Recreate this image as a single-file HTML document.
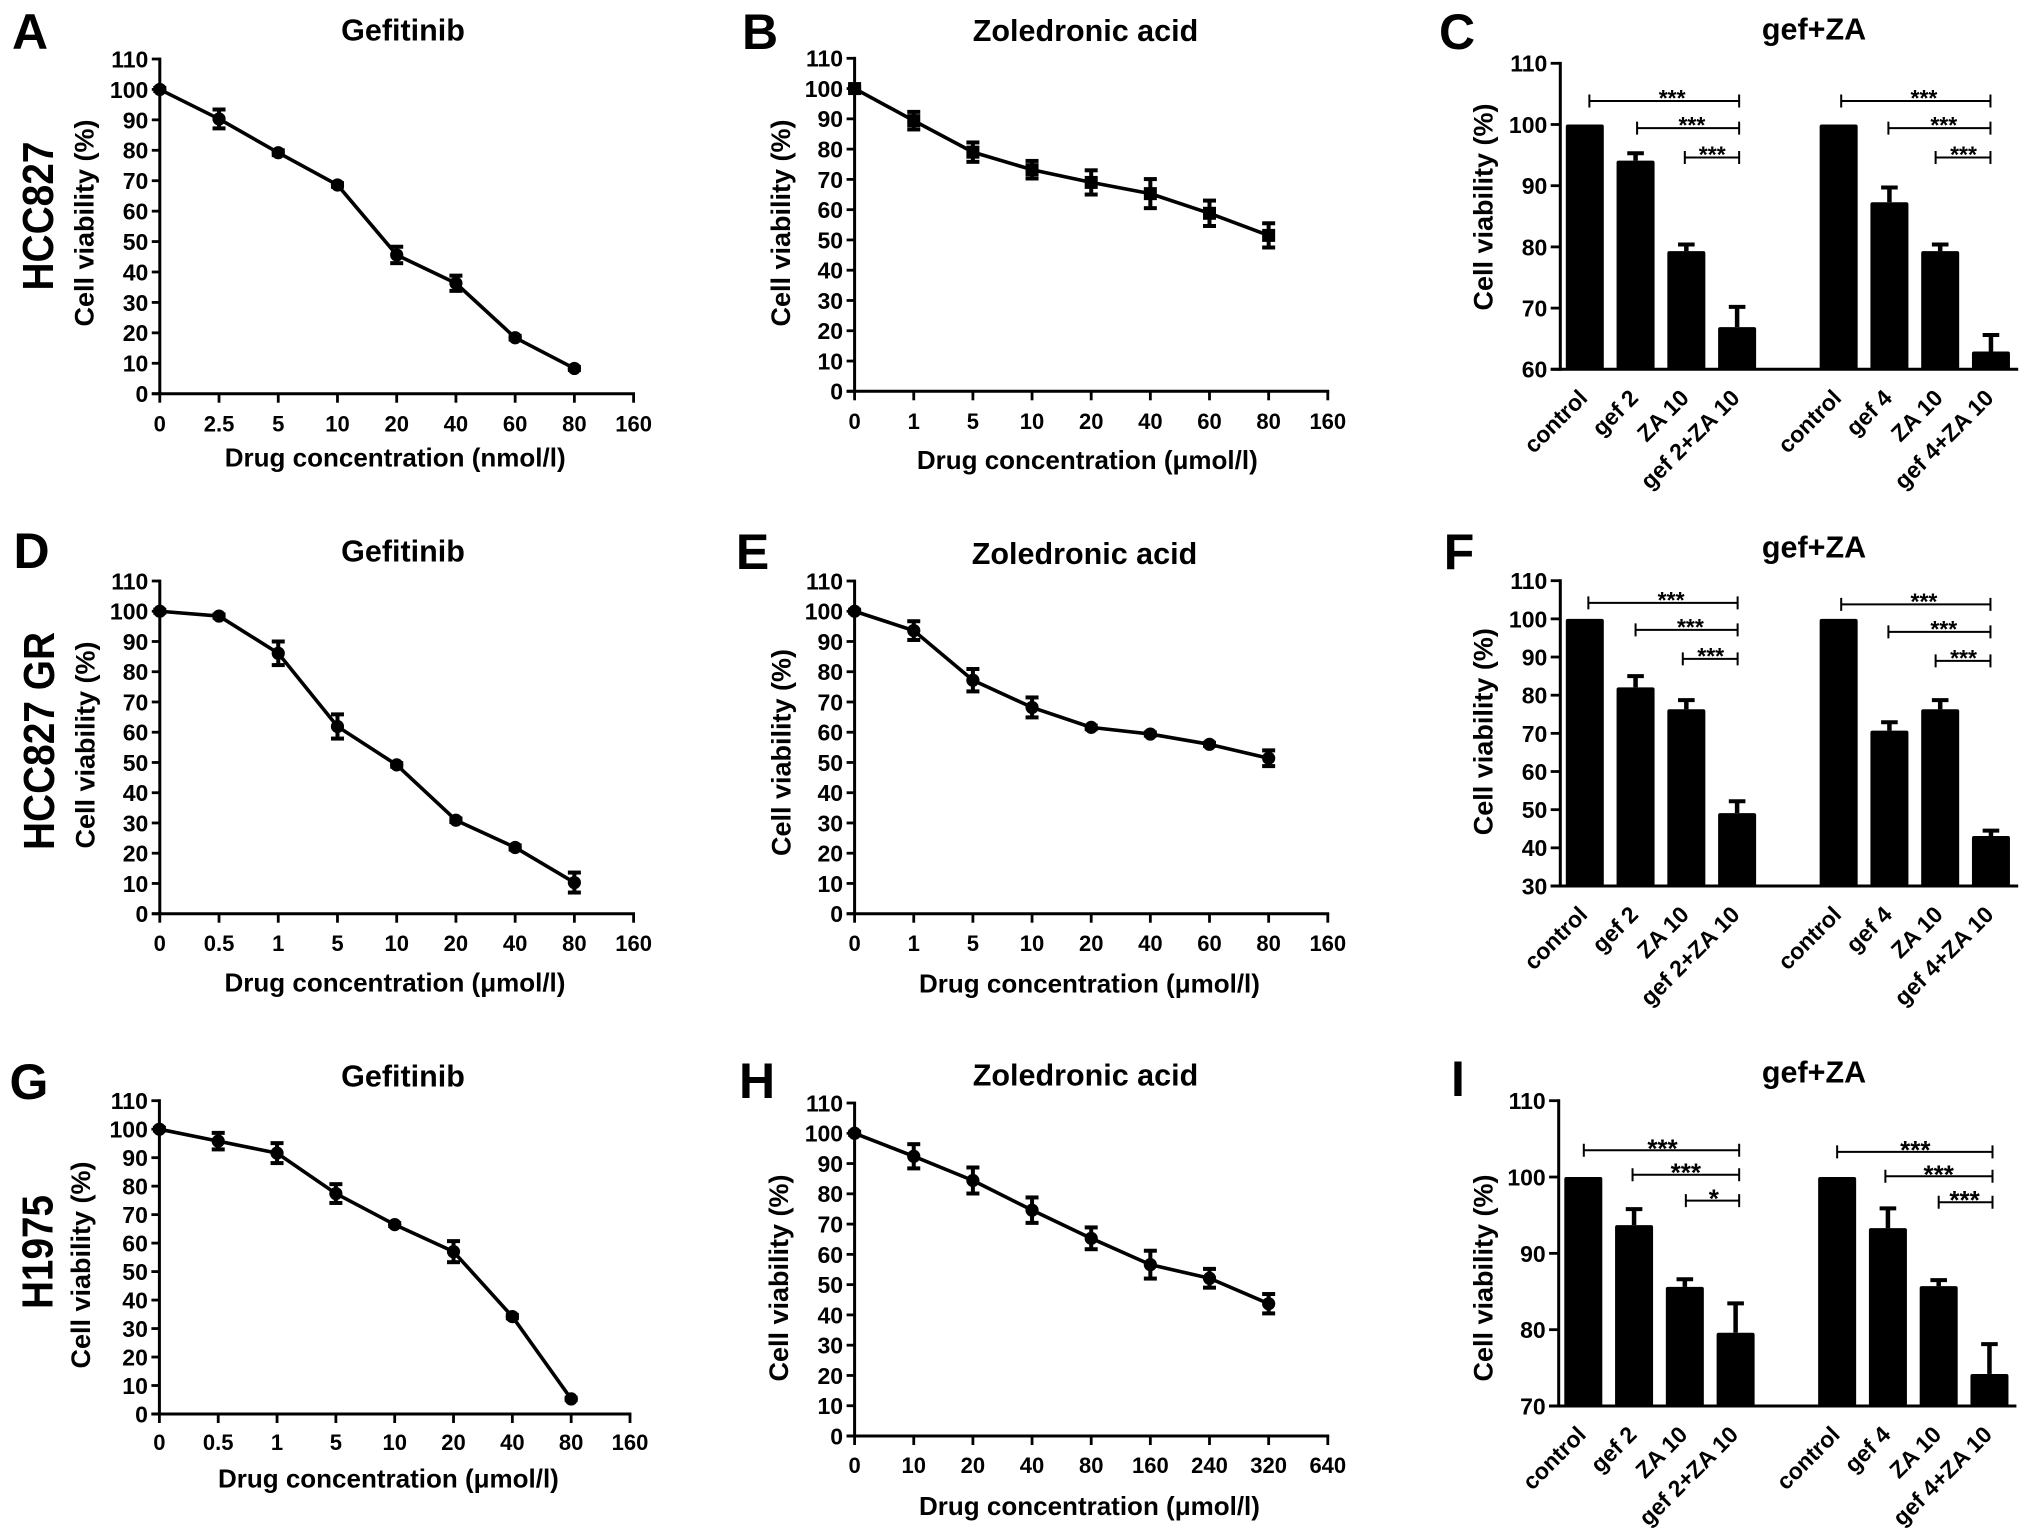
<!DOCTYPE html>
<html lang="en">
<head>
<meta charset="utf-8">
<title>Cell viability panels</title>
<style>
html,body{margin:0;padding:0;background:#fff;}
svg{display:block;}
text{font-family:"Liberation Sans",Arial,sans-serif;font-weight:bold;fill:#000;}
</style>
</head>
<body>
<svg id="figure" xmlns="http://www.w3.org/2000/svg" width="2031" height="1537" viewBox="0 0 2031 1537">
  <rect width="2031" height="1537" fill="#fff"/>

  <g font-size="50" text-anchor="middle">
    <text x="30" y="49">A</text>
    <text x="760" y="49">B</text>
    <text x="1457" y="49">C</text>
    <text x="31.5" y="568">D</text>
    <text x="752.5" y="569">E</text>
    <text x="1459" y="569">F</text>
    <text x="29" y="1099">G</text>
    <text x="757" y="1098">H</text>
    <text x="1458" y="1096">I</text>
  </g>

  <g font-size="44" text-anchor="middle">
    <text transform="translate(53,216) rotate(-90)" textLength="149" lengthAdjust="spacingAndGlyphs">HCC827</text>
    <text transform="translate(54,741) rotate(-90)" textLength="218" lengthAdjust="spacingAndGlyphs">HCC827 GR</text>
    <text transform="translate(52.7,1252) rotate(-90)" textLength="114" lengthAdjust="spacingAndGlyphs">H1975</text>
  </g>

  <g font-size="30.5" text-anchor="middle">
    <text x="403" y="40.7">Gefitinib</text>
    <text x="1085.5" y="41">Zoledronic acid</text>
    <text x="1814" y="39.3">gef+ZA</text>
    <text x="403" y="561.7">Gefitinib</text>
    <text x="1084.5" y="564">Zoledronic acid</text>
    <text x="1814" y="557.3">gef+ZA</text>
    <text x="403" y="1086.7">Gefitinib</text>
    <text x="1085.5" y="1085.7">Zoledronic acid</text>
    <text x="1814" y="1082.7">gef+ZA</text>
  </g>

  <g font-size="27" text-anchor="middle">
    <text transform="translate(93.5,223) rotate(-90)">Cell viability (%)</text>
    <text transform="translate(790,223) rotate(-90)">Cell viability (%)</text>
    <text transform="translate(1492.4,207) rotate(-90)">Cell viability (%)</text>
    <text transform="translate(94.4,745) rotate(-90)">Cell viability (%)</text>
    <text transform="translate(790.5,752.5) rotate(-90)">Cell viability (%)</text>
    <text transform="translate(1492.4,731.7) rotate(-90)">Cell viability (%)</text>
    <text transform="translate(90,1265) rotate(-90)">Cell viability (%)</text>
    <text transform="translate(788,1278) rotate(-90)">Cell viability (%)</text>
    <text transform="translate(1492.4,1278) rotate(-90)">Cell viability (%)</text>
  </g>

  <g font-size="26" text-anchor="middle">
    <text x="395.2" y="466.7">Drug concentration (nmol/l)</text>
    <text x="1087.3" y="469">Drug concentration (μmol/l)</text>
    <text x="395" y="991.7">Drug concentration (μmol/l)</text>
    <text x="1089.5" y="992.7">Drug concentration (μmol/l)</text>
    <text x="388.4" y="1487.7">Drug concentration (μmol/l)</text>
    <text x="1089.5" y="1515">Drug concentration (μmol/l)</text>
  </g>

  <g id="plots"></g>
</svg>

<script>
// ---------- line chart data ----------
const lineYTicks = [0, 10, 20, 30, 40, 50, 60, 70, 80, 90, 100, 110];

const concA = ['0', '2.5', '5', '10', '20', '40', '60', '80', '160'];
const viabilityA = [100, 90.3, 79.2, 68.6, 45.6, 36.3, 18.4, 8.3];
const errorA = [0.5, 3.1, 0.8, 0.6, 2.7, 2.5, 0.6, 0.5];

const concB = ['0', '1', '5', '10', '20', '40', '60', '80', '160'];
const viabilityB = [100, 89.4, 79, 73.2, 69, 65.3, 58.8, 51.5];
const errorB = [0.5, 2.9, 3.2, 2.9, 4, 4.8, 4.2, 4];

const concD = ['0', '0.5', '1', '5', '10', '20', '40', '80', '160'];
const viabilityD = [100, 98.4, 86.1, 61.9, 49.2, 30.9, 21.9, 10.3];
const errorD = [0.5, 0.5, 3.9, 4, 0.6, 0.6, 0.7, 3.3];

const concE = ['0', '1', '5', '10', '20', '40', '60', '80', '160'];
const viabilityE = [100, 93.6, 77.2, 68.2, 61.6, 59.4, 56, 51.4];
const errorE = [0.5, 3.1, 3.7, 3.3, 0.6, 0.5, 0.5, 2.6];

const concG = ['0', '0.5', '1', '5', '10', '20', '40', '80', '160'];
const viabilityG = [100, 95.8, 91.6, 77.4, 66.5, 57, 34.2, 5.3];
const errorG = [0.5, 2.9, 3.5, 3.3, 0.5, 3.7, 0.6, 0.4];

const concH = ['0', '10', '20', '40', '80', '160', '240', '320', '640'];
const viabilityH = [100, 92.4, 84.4, 74.6, 65.3, 56.6, 52.1, 43.7];
const errorH = [0.5, 4, 4.3, 4.2, 3.6, 4.6, 3.1, 3.2];

// ---------- bar chart data ----------
const barCategoriesLeft = ['control', 'gef 2', 'ZA 10', 'gef 2+ZA 10'];
const barCategoriesRight = ['control', 'gef 4', 'ZA 10', 'gef 4+ZA 10'];

const barYTicksC = [60, 70, 80, 90, 100, 110];
const barValuesC = [100, 94.1, 79.3, 66.9, 100, 87.3, 79.3, 62.9];
const barUpperC = [100, 95.3, 80.4, 70.2, 100, 89.7, 80.4, 65.6];
const bracketFromC = [0.09, 1.03, 1.97, 5.05, 5.98, 6.91];
const bracketToC = [3.04, 3.04, 3.04, 7.99, 7.99, 7.99];
const bracketLevelC = [103.85, 99.4, 94.6, 103.85, 99.4, 94.6];
const starPosC = [1.72, 2.11, 2.51, 6.68, 7.07, 7.46];
const starTextC = ['***', '***', '***', '***', '***', '***'];

const barYTicksF = [30, 40, 50, 60, 70, 80, 90, 100, 110];
const barValuesF = [100, 82.05, 76.3, 49.1, 100, 70.7, 76.3, 43.1];
const barUpperF = [100, 85, 78.7, 52.2, 100, 72.9, 78.7, 44.5];
const bracketFromF = [0.07, 1.0, 1.93, 5.05, 5.98, 6.91];
const bracketToF = [3.01, 3.01, 3.01, 7.99, 7.99, 7.99];
const bracketLevelF = [104.2, 97.1, 89.5, 103.8, 96.6, 89.0];
const starPosF = [1.70, 2.08, 2.48, 6.68, 7.07, 7.46];
const starTextF = ['***', '***', '***', '***', '***', '***'];

const barYTicksI = [70, 80, 90, 100, 110];
const barValuesI = [100, 93.7, 85.6, 79.6, 100, 93.3, 85.7, 74.2];
const barUpperI = [100, 95.8, 86.6, 83.45, 100, 95.9, 86.5, 78.1];
const bracketFromI = [0.01, 0.97, 2.02, 5.0, 5.95, 7.0];
const bracketToI = [3.07, 3.07, 3.07, 8.06, 8.06, 8.06];
const bracketLevelI = [103.5, 100.3, 96.9, 103.3, 100.1, 96.7];
const starPosI = [1.56, 2.02, 2.57, 6.54, 7.0, 7.51];
const starTextI = ['***', '***', '*', '***', '***', '***'];

// ---------- helpers ----------
const SVG_NS = 'http://www.w3.org/2000/svg';
const plotsRoot = document.getElementById('plots');

function mk(tag, parent, attrs, content) {
  const node = document.createElementNS(SVG_NS, tag);
  for (const k in attrs) node.setAttribute(k, attrs[k]);
  if (content !== undefined) node.textContent = content;
  parent.appendChild(node);
  return node;
}

function linearScale(d0, d1, r0, r1) {
  return function (v) { return r0 + (v - d0) * (r1 - r0) / (d1 - d0); };
}

function drawLinePanel(id, frame, ticks, values, errors, marker) {
  const g = mk('g', plotsRoot, {});
  
  

  const xScale = linearScale(0, ticks.length - 1, frame.x0, frame.x1);
  const yScale = linearScale(0, 110, frame.yBase, frame.yTop);

  const yAxis = mk('line', g, { x1: frame.x0, x2: frame.x0, y1: frame.yTop - 1.4, y2: frame.yBase + 1.4, stroke: '#000', 'stroke-width': 3 });
  
  

  const xAxis = mk('line', g, { x1: frame.x0 - 8, x2: frame.x1 + 1.4, y1: frame.yBase, y2: frame.yBase, stroke: '#000', 'stroke-width': 3 });
  
  

  lineYTicks.forEach(function (t) {
    const tick = mk('line', g, { x1: frame.x0 - 8, x2: frame.x0, y1: yScale(t), y2: yScale(t), stroke: '#000', 'stroke-width': 2.8 });
    
    
    const label = mk('text', g, { x: frame.x0 - 11.5, y: yScale(t) + 8.4, 'text-anchor': 'end', 'font-size': 23 }, String(t));
    
    
  });

  ticks.forEach(function (t, i) {
    const tick = mk('line', g, { x1: xScale(i), x2: xScale(i), y1: frame.yBase, y2: frame.yBase + 9, stroke: '#000', 'stroke-width': 2.8 });
    
    
    const label = mk('text', g, { x: xScale(i), y: frame.yBase + frame.labelDy, 'text-anchor': 'middle', 'font-size': 22 }, t);
    
    
  });

  const pts = values.map(function (v, i) { return xScale(i) + ',' + yScale(v); }).join(' ');
  const path = mk('polyline', g, { points: pts, fill: 'none', stroke: '#000', 'stroke-width': 3.6, 'stroke-linejoin': 'round' });
  
  

  values.forEach(function (v, i) {
    const cx = xScale(i);
    const hi = yScale(v + errors[i]);
    const lo = yScale(v - errors[i]);
    const stem = mk('line', g, { x1: cx, x2: cx, y1: hi, y2: lo, stroke: '#000', 'stroke-width': 4 });
    
    
    const capTop = mk('line', g, { x1: cx - 6.5, x2: cx + 6.5, y1: hi, y2: hi, stroke: '#000', 'stroke-width': 4 });
    
    
    const capBottom = mk('line', g, { x1: cx - 6.5, x2: cx + 6.5, y1: lo, y2: lo, stroke: '#000', 'stroke-width': 4 });
    
    
    let point;
    if (marker === 'square') {
      point = mk('rect', g, { x: cx - 6.5, y: yScale(v) - 6.5, width: 13, height: 13, fill: '#000' });
    } else {
      point = mk('circle', g, { cx: cx, cy: yScale(v), r: 6.6, fill: '#000' });
    }
    
    
  });
}

function drawBarPanel(id, frame, yTicks, values, upper, bFrom, bTo, bLevel, starPos, starText) {
  const g = mk('g', plotsRoot, {});
  
  

  const yMin = yTicks[0];
  const yMax = yTicks[yTicks.length - 1];
  const yScale = linearScale(yMin, yMax, frame.yBase, frame.yTop);
  const slot = function (c) { return frame.barStart + c * frame.step; };
  const barSlots = [0, 1, 2, 3, 5, 6, 7, 8];
  const names = barCategoriesLeft.concat(barCategoriesRight);

  values.forEach(function (v, i) {
    const cx = slot(barSlots[i]);
    if (upper[i] > v) {
      const stem = mk('line', g, { x1: cx, x2: cx, y1: yScale(upper[i]), y2: yScale(v), stroke: '#000', 'stroke-width': 4.5 });
      
      
      const cap = mk('line', g, { x1: cx - 8.3, x2: cx + 8.3, y1: yScale(upper[i]), y2: yScale(upper[i]), stroke: '#000', 'stroke-width': 4 });
      
      
    }
    const bar = mk('rect', g, { x: cx - 19, y: yScale(v), width: 38, height: frame.yBase - yScale(v), rx: 2, fill: '#000' });
    
    

    const label = mk('text', g, { 'text-anchor': 'end', 'font-size': 23, transform: 'translate(' + (cx + 4) + ',' + (frame.yBase + 30) + ') rotate(-45)' }, names[i]);
    
    
  });

  const yAxis = mk('line', g, { x1: frame.x0, x2: frame.x0, y1: frame.yTop - 1.4, y2: frame.yBase + 1.4, stroke: '#000', 'stroke-width': 3 });
  
  

  const xAxis = mk('line', g, { x1: frame.x0 - 9.6, x2: frame.x1, y1: frame.yBase, y2: frame.yBase, stroke: '#000', 'stroke-width': 3 });
  
  

  yTicks.forEach(function (t) {
    const tick = mk('line', g, { x1: frame.x0 - 9.6, x2: frame.x0, y1: yScale(t), y2: yScale(t), stroke: '#000', 'stroke-width': 2.8 });
    
    
    const label = mk('text', g, { x: frame.x0 - 13, y: yScale(t) + 8.4, 'text-anchor': 'end', 'font-size': 23 }, String(t));
    
    
  });

  bFrom.forEach(function (from, i) {
    const y = yScale(bLevel[i]);
    const xa = slot(from);
    const xb = slot(bTo[i]);
    const bracket = mk('path', g, { d: 'M' + xa + ' ' + (y - 6.5) + 'V' + (y + 6.5) + 'M' + xa + ' ' + y + 'H' + xb + 'M' + xb + ' ' + (y - 6.5) + 'V' + (y + 6.5), fill: 'none', stroke: '#000', 'stroke-width': 2 });
    
    
    const star = mk('text', g, { x: slot(starPos[i]), y: y + frame.starDy, 'text-anchor': 'middle', 'font-size': frame.starSize }, starText[i]);
    
    
  });
}

// ---------- panels ----------
drawLinePanel('a', { x0: 159.8, x1: 633.6, yTop: 59, yBase: 393.7, labelDy: 38 }, concA, viabilityA, errorA, 'circle');
drawLinePanel('b', { x0: 854.6, x1: 1327.8, yTop: 58.3, yBase: 391.3, labelDy: 37.7 }, concB, viabilityB, errorB, 'square');
drawLinePanel('d', { x0: 159.8, x1: 633.6, yTop: 581, yBase: 913.7, labelDy: 37.3 }, concD, viabilityD, errorD, 'circle');
drawLinePanel('e', { x0: 854.6, x1: 1327.8, yTop: 581, yBase: 913.7, labelDy: 37.3 }, concE, viabilityE, errorE, 'circle');
drawLinePanel('g', { x0: 159.4, x1: 630, yTop: 1100.7, yBase: 1414, labelDy: 36 }, concG, viabilityG, errorG, 'circle');
drawLinePanel('h', { x0: 854.6, x1: 1327.8, yTop: 1103, yBase: 1436, labelDy: 37 }, concH, viabilityH, errorH, 'circle');

drawBarPanel('c', { x0: 1560.3, x1: 2018.2, yTop: 63.3, yBase: 369.3, barStart: 1584.8, step: 50.77, starDy: 5, starSize: 23 },
  barYTicksC, barValuesC, barUpperC, bracketFromC, bracketToC, bracketLevelC, starPosC, starTextC);
drawBarPanel('f', { x0: 1560.3, x1: 2018.2, yTop: 580.7, yBase: 886, barStart: 1584.8, step: 50.77, starDy: 5, starSize: 23 },
  barYTicksF, barValuesF, barUpperF, bracketFromF, bracketToF, bracketLevelF, starPosF, starTextF);
drawBarPanel('i', { x0: 1558.7, x1: 2016.4, yTop: 1100.7, yBase: 1406, barStart: 1583.3, step: 50.77, starDy: 7, starSize: 26 },
  barYTicksI, barValuesI, barUpperI, bracketFromI, bracketToI, bracketLevelI, starPosI, starTextI);
</script>
</body>
</html>
